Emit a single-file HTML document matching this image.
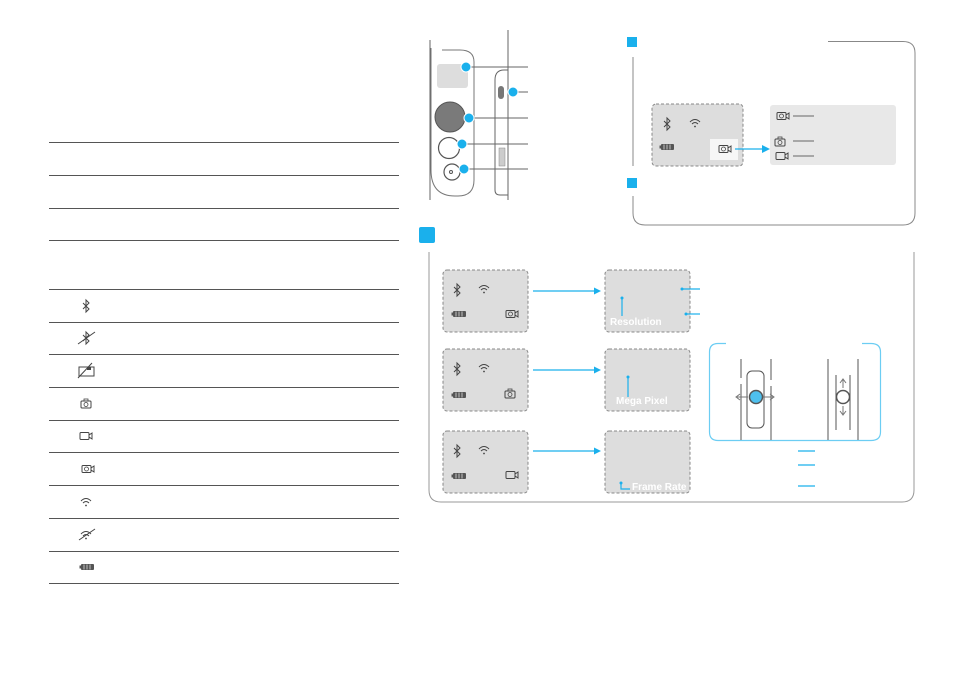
<!DOCTYPE html>
<html><head><meta charset="utf-8"><style>
html,body{margin:0;padding:0;background:#fff;width:965px;height:681px;overflow:hidden}
svg{display:block;font-family:"Liberation Sans",sans-serif}
</style></head><body>
<svg width="965" height="681" viewBox="0 0 965 681" xmlns="http://www.w3.org/2000/svg">
<defs>
<g id="bt"><path d="M-3,-3 L3,3 L0,6 L0,-6 L3,-3 L-3,3" fill="none" stroke="#444" stroke-width="1"/></g>
<g id="wf"><path d="M-5,-1 Q0,-6 5,-1 M-3,1 Q0,-2 3,1" fill="none" stroke="#444" stroke-width="1"/><circle cx="0" cy="3.5" r="0.9" fill="#444"/></g>
<g id="bat"><rect x="-6" y="-3" width="13" height="6" rx="1" fill="#555"/><rect x="-7.5" y="-1.5" width="1.5" height="3" fill="#555"/><path d="M-3,-2.5V2.5M0,-2.5V2.5M3,-2.5V2.5" stroke="#ddd" stroke-width="0.8"/></g>
<g id="cam"><rect x="-5" y="-3" width="10" height="7" rx="1" fill="none" stroke="#444"/><rect x="-2" y="-5" width="4" height="2" fill="none" stroke="#444" stroke-width="0.8"/><circle cx="0" cy="0.5" r="2" fill="none" stroke="#444" stroke-width="0.8"/></g>
<g id="vid"><rect x="-6" y="-3.5" width="9" height="7" rx="1" fill="none" stroke="#444"/><path d="M3,-1 L6,-3 V3 L3,1" fill="none" stroke="#444"/></g>
<g id="tl"><rect x="-6" y="-3.5" width="9" height="7" rx="1" fill="none" stroke="#444"/><circle cx="-1.5" cy="0" r="2" fill="none" stroke="#444" stroke-width="0.8"/><path d="M3,-1 L6,-3 V3 L3,1" fill="none" stroke="#444"/></g>
</defs>

<!-- left table -->
<g stroke="#555" stroke-width="1">
<line x1="49" y1="142.5" x2="399" y2="142.5"/><line x1="49" y1="175.5" x2="399" y2="175.5"/>
<line x1="49" y1="208.5" x2="399" y2="208.5"/><line x1="49" y1="240.5" x2="399" y2="240.5"/>
<line x1="49" y1="289.5" x2="399" y2="289.5"/><line x1="49" y1="322.5" x2="399" y2="322.5"/>
<line x1="49" y1="354.5" x2="399" y2="354.5"/><line x1="49" y1="387.5" x2="399" y2="387.5"/>
<line x1="49" y1="420.5" x2="399" y2="420.5"/><line x1="49" y1="452.5" x2="399" y2="452.5"/>
<line x1="49" y1="485.5" x2="399" y2="485.5"/><line x1="49" y1="518.5" x2="399" y2="518.5"/>
<line x1="49" y1="551.5" x2="399" y2="551.5"/><line x1="49" y1="583.5" x2="399" y2="583.5"/>
</g>
<use href="#bt" x="86" y="306"/>
<use href="#bt" x="86" y="338"/><line x1="78" y1="344" x2="95" y2="332" stroke="#444"/>
<g transform="translate(86,371)"><rect x="-7" y="-4" width="15" height="9" fill="none" stroke="#444"/><line x1="-8" y1="7" x2="6" y2="-8" stroke="#444"/><rect x="1" y="-4" width="4" height="3" fill="#444"/></g>
<use href="#cam" x="86" y="404"/>
<use href="#vid" x="86" y="436"/>
<use href="#tl" x="88" y="469"/>
<use href="#wf" x="86" y="502"/>
<use href="#wf" x="86" y="535"/><line x1="79" y1="540" x2="95" y2="529" stroke="#444"/>
<use href="#bat" x="87" y="567"/>

<!-- device -->
<path d="M431,48 V170 Q431,196 455,196 H458 Q474,196 474,180 V62 Q474,50 460,50 H442" fill="none" stroke="#777" stroke-width="1"/>
<line x1="430" y1="40" x2="430" y2="200" stroke="#666"/>
<rect x="437" y="64" width="31" height="24" rx="3" fill="#ddd"/>
<circle cx="450" cy="117" r="15" fill="#7a7a7a" stroke="#555"/>
<circle cx="449" cy="148" r="10.5" fill="none" stroke="#555" stroke-width="1.2"/>
<circle cx="452" cy="172" r="8" fill="none" stroke="#555" stroke-width="1.2"/>
<circle cx="451" cy="172" r="1.5" fill="none" stroke="#555"/>
<path d="M508,30 V200 M495,80 Q495,70 504,70 H508 M495,80 V190 Q495,195 500,195 H508" fill="none" stroke="#666"/>
<rect x="498" y="86" width="6" height="13" rx="3" fill="#777"/>
<rect x="499" y="148" width="6" height="18" fill="#ccc" stroke="#888" stroke-width="0.5"/>
<g stroke="#666"><line x1="466" y1="67" x2="528" y2="67"/><line x1="513" y1="92" x2="528" y2="92"/><line x1="469" y1="118" x2="528" y2="118"/><line x1="462" y1="144" x2="528" y2="144"/><line x1="464" y1="169" x2="528" y2="169"/></g>
<g fill="#1ab0ec" stroke="#fff" stroke-width="1"><circle cx="466" cy="67" r="5"/><circle cx="513" cy="92" r="5"/><circle cx="469" cy="118" r="5"/><circle cx="462" cy="144" r="5"/><circle cx="464" cy="169" r="5"/></g>

<!-- top right panel -->
<path d="M828,41.5 H903 Q915,41.5 915,53 V213 Q915,225 903,225 H645 Q633,225 633,213 V196" fill="none" stroke="#888"/>
<line x1="633" y1="57" x2="633" y2="166" stroke="#888"/>
<rect x="627" y="37" width="10" height="10" fill="#1ab0ec"/>
<rect x="627" y="178" width="10" height="10" fill="#1ab0ec"/>
<rect x="652" y="104" width="91" height="62" rx="4" fill="#ddd" stroke="#888" stroke-dasharray="3,2"/>
<use href="#bt" x="667" y="124"/><use href="#wf" x="695" y="123"/><use href="#bat" x="667" y="147"/>
<rect x="710" y="139" width="28" height="21" fill="#f6f6f6"/>
<use href="#tl" x="725" y="149"/>
<line x1="735" y1="149" x2="764" y2="149" stroke="#1ab0ec" stroke-width="1.3"/><path d="M770,149 L762,145 V153Z" fill="#1ab0ec"/>
<rect x="770" y="105" width="126" height="60" rx="3" fill="#e8e8e8"/>
<use href="#tl" x="783" y="116"/><use href="#cam" x="780" y="142"/><use href="#vid" x="782" y="156"/>
<g stroke="#666"><line x1="793" y1="116" x2="814" y2="116"/><line x1="793" y1="141" x2="814" y2="141"/><line x1="793" y1="156" x2="814" y2="156"/></g>

<!-- bottom panel -->
<rect x="419" y="227" width="16" height="16" rx="2" fill="#1ab0ec"/>
<path d="M429,252 V490 Q429,502 441,502 H902 Q914,502 914,490 V252" fill="none" stroke="#999"/>
<g fill="#ddd" stroke="#888" stroke-dasharray="3,2">
<rect x="443" y="270" width="85" height="62" rx="4"/><rect x="443" y="349" width="85" height="62" rx="4"/><rect x="443" y="431" width="85" height="62" rx="4"/>
<rect x="605" y="270" width="85" height="62" rx="4"/><rect x="605" y="349" width="85" height="62" rx="4"/><rect x="605" y="431" width="85" height="62" rx="4"/>
</g>
<use href="#bt" x="457" y="290"/><use href="#wf" x="484" y="289"/><use href="#bat" x="459" y="314"/><use href="#tl" x="512" y="314"/>
<use href="#bt" x="457" y="369"/><use href="#wf" x="484" y="368"/><use href="#bat" x="459" y="395"/><use href="#cam" x="510" y="394"/>
<use href="#bt" x="457" y="451"/><use href="#wf" x="484" y="450"/><use href="#bat" x="459" y="476"/><use href="#vid" x="512" y="475"/>
<g stroke="#1ab0ec" stroke-width="1.2"><line x1="533" y1="291" x2="595" y2="291"/><line x1="533" y1="370" x2="595" y2="370"/><line x1="533" y1="451" x2="595" y2="451"/></g>
<g fill="#1ab0ec"><path d="M601,291 L594,287.5 V294.5Z"/><path d="M601,370 L594,366.5 V373.5Z"/><path d="M601,451 L594,447.5 V454.5Z"/></g>
<g stroke="#1ab0ec" stroke-width="1.2" fill="none">
<line x1="622" y1="298" x2="622" y2="316"/><line x1="682" y1="289" x2="700" y2="289"/><line x1="686" y1="314" x2="700" y2="314"/>
<line x1="628" y1="377" x2="628" y2="397"/><path d="M621,483 V489 H630"/></g>
<g fill="#1ab0ec"><circle cx="622" cy="298" r="1.5"/><circle cx="682" cy="289" r="1.5"/><circle cx="686" cy="314" r="1.5"/><circle cx="628" cy="377" r="1.5"/><circle cx="621" cy="483" r="1.5"/></g>
<g fill="#fff" font-size="10" font-weight="bold"><text x="610" y="325">Resolution</text><text x="616" y="404">Mega Pixel</text><text x="632" y="490">Frame Rate</text></g>

<!-- control panel -->
<path d="M726,343.5 H718 Q709.5,343.5 709.5,352 V432 Q709.5,440.5 718,440.5 H871 Q880.5,440.5 880.5,432 V352 Q880.5,343.5 871,343.5 H862" fill="none" stroke="#6ccdf3" stroke-width="1.2"/>
<g stroke="#555" fill="none" stroke-width="1">
<path d="M741,359 V378 M741,384 V440 M771,359 V380 M771,386 V440"/>
<rect x="747" y="371" width="17" height="57" rx="5"/>
<path d="M828,359 V440 M858,359 V440 M836,375 V430 M850,375 V430"/>
<circle cx="843" cy="397" r="6.5" stroke-width="1.5"/>
<path d="M843,388 V380 M840,383 L843,379 L846,383 M843,406 V414 M840,411 L843,415 L846,411 M748,397 H737 M740,394 L736,397 L740,400 M762,397 H773 M770,394 L774,397 L770,400" stroke="#777"/>
</g>
<circle cx="756" cy="397" r="6.5" fill="#4ec0ee" stroke="#555" stroke-width="1.5"/>
<g stroke="#1ab0ec" stroke-width="1.2"><line x1="798" y1="451" x2="815" y2="451"/><line x1="798" y1="465" x2="815" y2="465"/><line x1="798" y1="486" x2="815" y2="486"/></g>
</svg>
</body></html>
